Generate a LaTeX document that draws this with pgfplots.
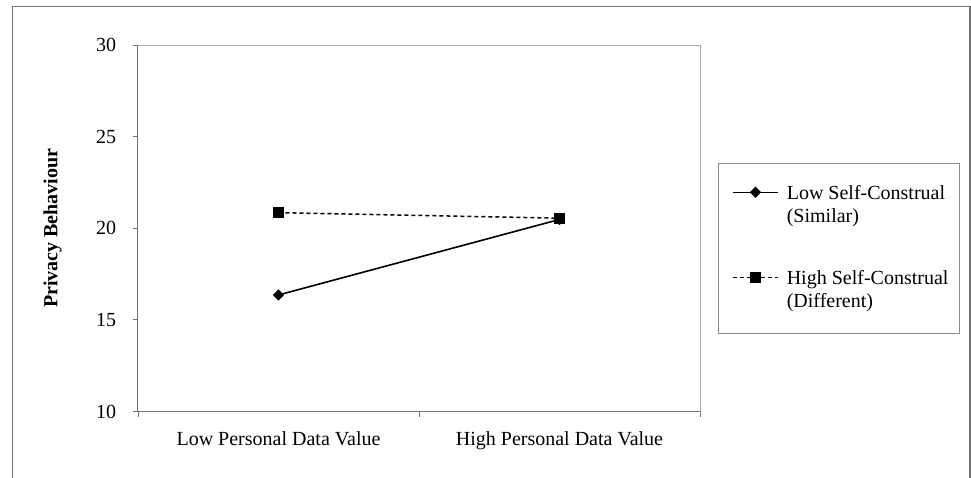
\documentclass[border=0pt]{standalone}
\usepackage{pgfplots}
\pgfplotsset{compat=1.18}
\usepackage{fontspec}
\setmainfont{Liberation Serif}
\begin{document}
\fontsize{20}{23}\selectfont
\begin{tikzpicture}
\path[use as bounding box] (0pt,0pt) rectangle (971pt,-478pt);
\draw[black!55, line width=1.3pt] (12.5pt,-520pt) -- (12.5pt,-6.5pt) -- (970pt,-6.5pt) -- (970pt,-520pt);
\draw[black!45, line width=0.9pt] (718pt,-163pt) rectangle (959pt,-333pt);
\begin{axis}[
  at={(138pt,-411.5pt)}, anchor=south west,
  scale only axis, width=562pt, height=366.5pt,
  xmin=-0.5, xmax=1.5, ymin=10, ymax=30,
  axis lines=left, axis line style={-, black!55, line width=1pt},
  xtick={-0.5,0.5,1.5}, xticklabels={},
  extra x ticks={0,1},
  extra x tick labels={Low Personal Data Value, High Personal Data Value},
  extra x tick style={major tick length=0pt, xticklabel style={yshift=-13pt}},
  ytick={10,15,20,25,30},
  tick align=outside, major tick length=5pt,
  tick style={black!55, line width=0.8pt},
  minor tick num=0,
  /pgf/number format/assume math mode=true,
  ticklabel style={font=\fontsize{20}{23}\selectfont},
  yticklabel style={xshift=-10pt},
  ylabel={\bfseries Privacy Behaviour},
  every axis y label/.style={at={(axis description cs:-0.152,0.5)}, rotate=90, anchor=center, font=\fontsize{20}{23}\selectfont},
  legend style={at={(axis description cs:1.032,0.678)}, anchor=north west,
    draw=none, fill=none, inner xsep=14pt, inner ysep=20pt,
    column sep=8pt, row sep=66pt, font=\fontsize{20}{23}\selectfont,
    nodes={inner sep=0pt, anchor=base west}},
  legend cell align=left,
  legend image code/.code={\draw[mark repeat=2,mark phase=2,#1] plot coordinates {(0pt,7pt) (22.5pt,7pt) (45pt,7pt)};},
  clip=false,
]
\draw[black!35, line width=0.8pt] (rel axis cs:0,1) -- (rel axis cs:1,1) -- (rel axis cs:1,0);
\addplot[black, line width=1.6pt, mark=square*, mark size=3.2pt, mark options={rotate=45, solid}]
  coordinates {(0,16.36) (1,20.48)};
\addlegendentry{\begin{tabular}[t]{@{}l@{}}Low Self-Construal\\(Similar)\end{tabular}}
\addplot[black, line width=1.5pt, dash pattern=on 4pt off 3pt, mark=square*, mark size=4.7pt, mark options={solid}]
  coordinates {(0,20.85) (1,20.55)};
\addlegendentry{\begin{tabular}[t]{@{}l@{}}High Self-Construal\\(Different)\end{tabular}}
\end{axis}
\end{tikzpicture}
\end{document}
